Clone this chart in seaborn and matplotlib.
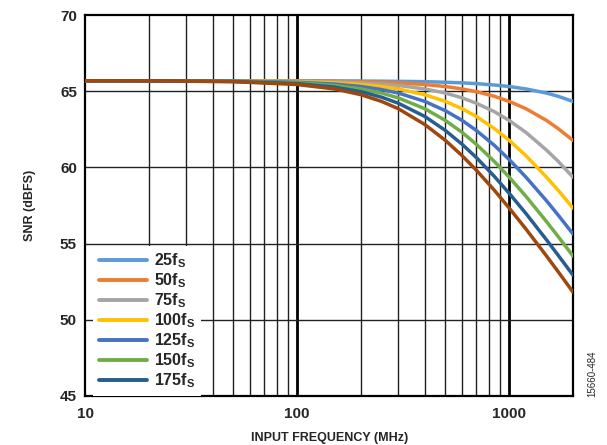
import matplotlib
matplotlib.use("Agg")
import matplotlib.pyplot as plt
from matplotlib.lines import Line2D
from matplotlib.ticker import FixedLocator, NullFormatter
import seaborn as sns
import pandas as pd

# Input frequency (MHz)
freq = [10, 20, 50, 100, 150, 200, 250, 300, 400, 500, 600, 700, 850, 1000, 1200, 1500, 1700, 2000]

# SNR (dBFS) per clock jitter
snr_25 = [65.7, 65.7, 65.7, 65.7, 65.69, 65.68, 65.67, 65.66, 65.64, 65.6, 65.56, 65.51, 65.42, 65.32, 65.16, 64.89, 64.68, 64.34]
snr_50 = [65.7, 65.7, 65.7, 65.68, 65.66, 65.64, 65.6, 65.56, 65.45, 65.32, 65.16, 64.98, 64.68, 64.34, 63.86, 63.09, 62.56, 61.78]
snr_75 = [65.7, 65.7, 65.69, 65.66, 65.62, 65.56, 65.48, 65.39, 65.16, 64.89, 64.57, 64.22, 63.67, 63.09, 62.3, 61.14, 60.41, 59.36]
snr_100 = [65.7, 65.7, 65.68, 65.64, 65.56, 65.45, 65.32, 65.16, 64.78, 64.34, 63.86, 63.35, 62.56, 61.78, 60.77, 59.36, 58.51, 57.33]
snr_125 = [65.7, 65.7, 65.68, 65.6, 65.48, 65.32, 65.12, 64.89, 64.34, 63.73, 63.09, 62.43, 61.46, 60.52, 59.36, 57.81, 56.88, 55.63]
snr_150 = [65.7, 65.7, 65.66, 65.56, 65.39, 65.16, 64.89, 64.57, 63.86, 63.09, 62.3, 61.52, 60.4, 59.36, 58.1, 56.44, 55.47, 54.18]
snr_175 = [65.7, 65.69, 65.65, 65.51, 65.28, 64.98, 64.62, 64.22, 63.35, 62.43, 61.52, 60.65, 59.42, 58.3, 56.97, 55.24, 54.24, 52.92]
snr_200 = [65.7, 65.69, 65.64, 65.45, 65.16, 64.78, 64.34, 63.86, 62.82, 61.78, 60.77, 59.82, 58.51, 57.33, 55.95, 54.18, 53.16, 51.81]

jitter = ["25", "50", "75", "100", "125", "150", "175", "200"]
series = [snr_25, snr_50, snr_75, snr_100, snr_125, snr_150, snr_175, snr_200]
colors = ["#5B9BD5", "#ED7D31", "#A5A5A5", "#FFC000", "#4472C4", "#70AD47", "#255E91", "#9E480E"]
legend_n = 7  # the 200 fS entry is cut off in the legend

y_ticks = [45, 50, 55, 60, 65, 70]
x_ticks = [10, 100, 1000]
x_tick_labels = ["10", "100", "1000"]

rows = []
for j, s in zip(jitter, series):
    for f, v in zip(freq, s):
        rows.append({"freq": f, "snr": v, "jitter": j})
df = pd.DataFrame(rows)

sns.set_style("white")
plt.rcParams["font.family"] = ["Liberation Sans", "DejaVu Sans"]
plt.rcParams["mathtext.fontset"] = "custom"
plt.rcParams["mathtext.rm"] = "Liberation Sans:bold"
plt.rcParams["mathtext.bf"] = "Liberation Sans:bold"
plt.rcParams["mathtext.it"] = "Liberation Sans:bold"

fig = plt.figure(figsize=(6.07, 4.45), dpi=100)
ax = fig.add_axes([0.1405, 0.1108, 0.8035, 0.8548])

sns.lineplot(data=df, x="freq", y="snr", hue="jitter", hue_order=jitter,
             palette=colors, linewidth=2.5, legend=False, ax=ax, zorder=3)

ax.set_xscale("log")
ax.set_xlim(10, 2000)
ax.set_ylim(45, 70)

# grid
minor = [m * 10 ** e for e in (1, 2, 3) for m in range(2, 10) if m * 10 ** e < 2000]
for xv in minor:
    ax.axvline(xv, color="#222222", lw=1.0, zorder=1)
for xv in [100, 1000]:
    ax.axvline(xv, color="black", lw=2.0, zorder=1)
for yv in [50, 55, 60, 65]:
    ax.axhline(yv, color="#222222", lw=1.0, zorder=1)

ax.xaxis.set_major_locator(FixedLocator(x_ticks))
ax.set_xticklabels(x_tick_labels)
ax.xaxis.set_minor_formatter(NullFormatter())
ax.set_yticks(y_ticks)
ax.tick_params(axis="both", which="both", length=0, labelsize=11)
ax.tick_params(axis="x", pad=8)
ax.tick_params(axis="y", pad=6)
for lab in ax.get_xticklabels() + ax.get_yticklabels():
    lab.set_fontweight("bold")

for sp in ax.spines.values():
    sp.set_color("black")
    sp.set_linewidth(1.6)

ax.set_xlabel("INPUT FREQUENCY (MHz)", fontsize=9, fontweight="bold", labelpad=8)
ax.set_ylabel("SNR (dBFS)", fontsize=9, fontweight="bold", labelpad=17)

handles = [Line2D([0], [0], color=colors[i], lw=2.8) for i in range(legend_n)]
labels = [r"$\mathbf{%sf_S}$" % jitter[i] for i in range(legend_n)]
leg = ax.legend(handles, labels, loc="lower left", bbox_to_anchor=(0.016, 0.0),
                frameon=True, fancybox=False, framealpha=1.0, edgecolor="white",
                fontsize=11.5, handlelength=3.0, handletextpad=0.45,
                labelspacing=0.08, borderpad=0.35, borderaxespad=0.0)
leg.get_frame().set_linewidth(0)
leg.set_zorder(5)

fig.text(0.975, 0.16, "15660-484", rotation=90, fontsize=7, ha="center", va="center")

fig.savefig("out.png", dpi=100)
